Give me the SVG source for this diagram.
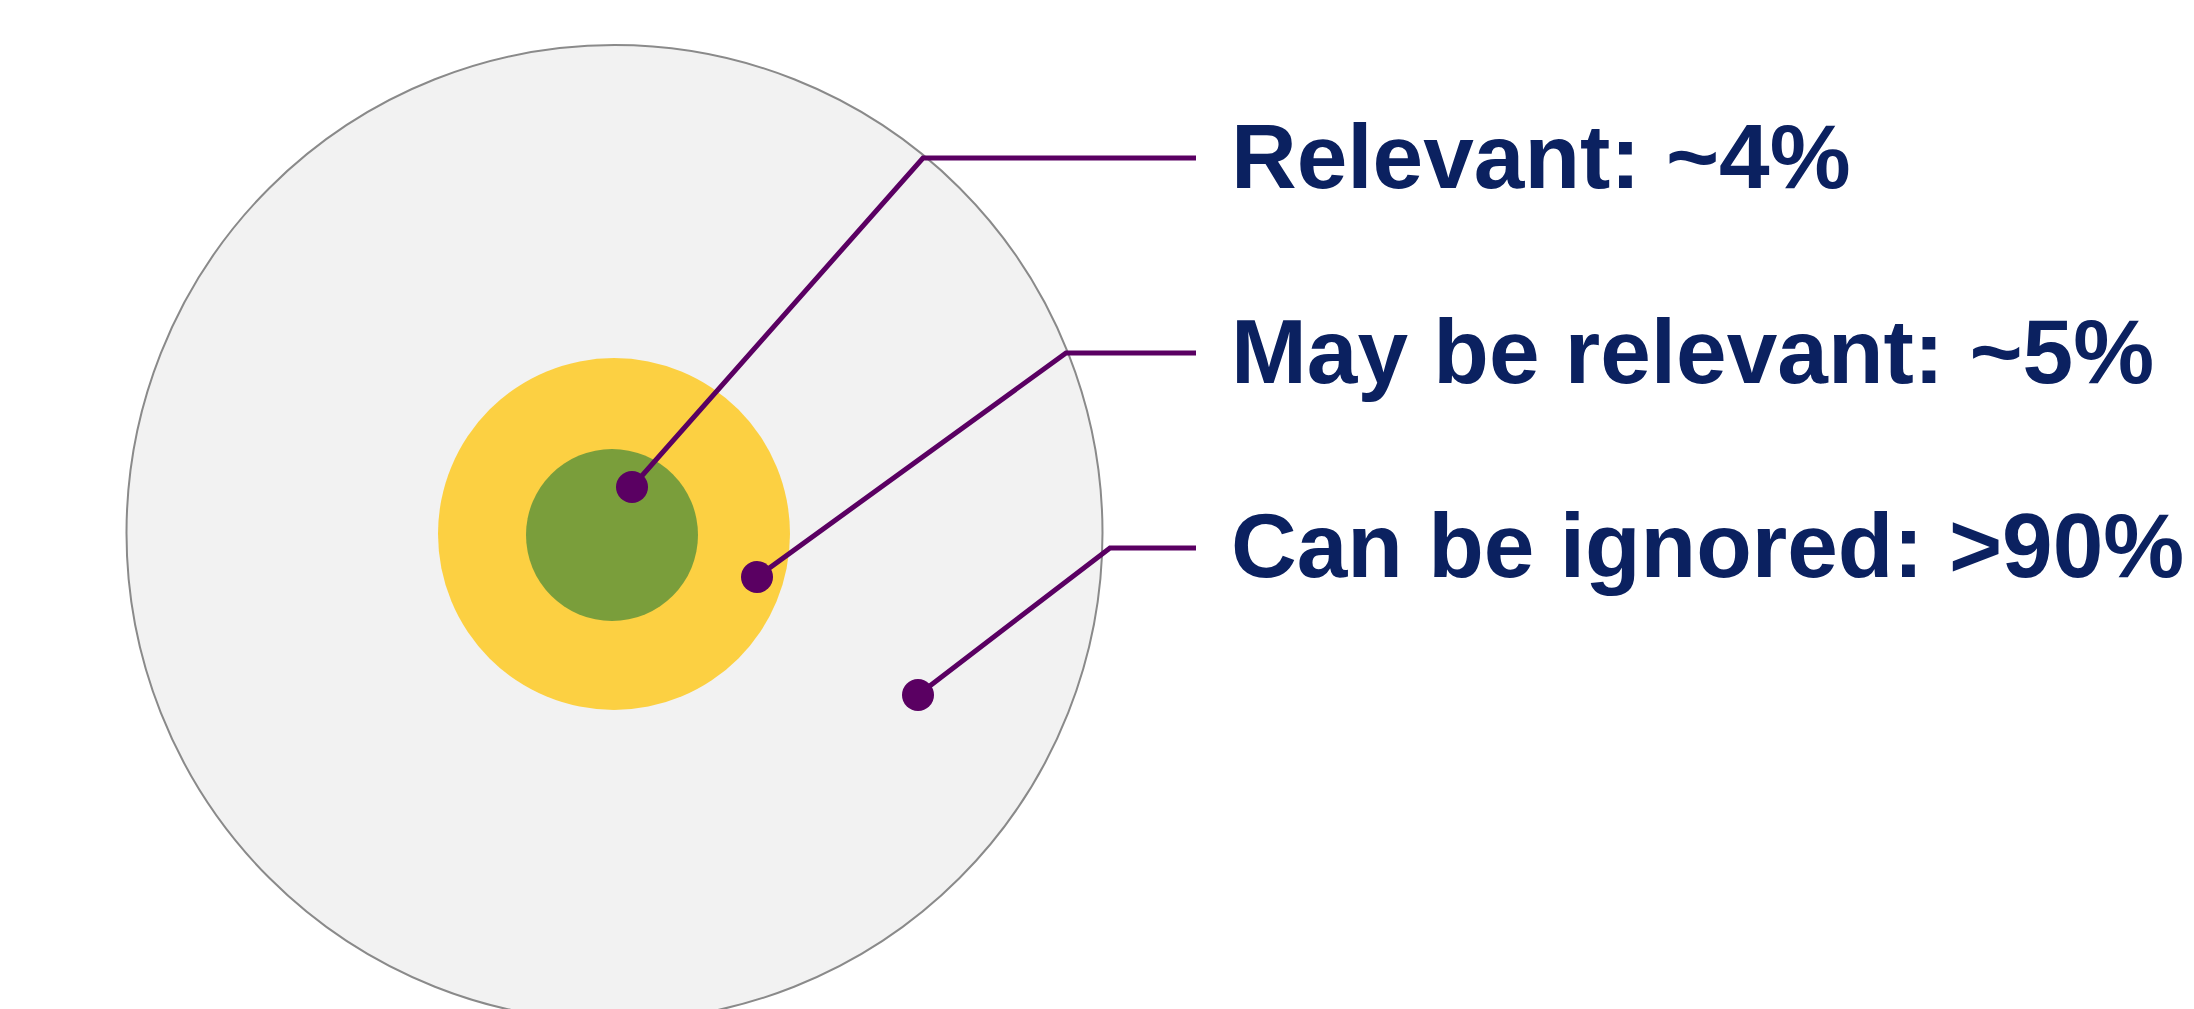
<svg xmlns="http://www.w3.org/2000/svg" width="2194" height="1009" viewBox="0 0 2194 1009">
  <style>
    .label { font-family: "Liberation Sans", Arial, sans-serif; font-weight: bold; font-size: 91px; fill: #0b2160; }
    .leader { fill: none; stroke: #5a0062; stroke-width: 5; stroke-linejoin: miter; }
    .dot { fill: #5a0062; }
  </style>
  <rect width="2194" height="1009" fill="#ffffff"/>

  <!-- concentric rings -->
  <g id="ring-ignored">
    <circle cx="614.5" cy="533" r="488" fill="#f2f2f2" stroke="#8a8a8a" stroke-width="2"/>
  </g>
  <g id="ring-maybe">
    <circle cx="614" cy="534" r="176" fill="#fcd042"/>
  </g>
  <g id="ring-relevant">
    <circle cx="612" cy="535" r="86" fill="#7a9e3b"/>
  </g>

  <!-- leader lines from each ring to its label -->
  <g id="connectors">
    <polyline class="leader" points="632,487 923,158 1196,158"/>
    <polyline class="leader" points="757,577 1066,353 1196,353"/>
    <polyline class="leader" points="918,695 1110,548 1196,548"/>
    <circle class="dot" cx="632" cy="487" r="16"/>
    <circle class="dot" cx="757" cy="577" r="16"/>
    <circle class="dot" cx="918" cy="695" r="16"/>
  </g>

  <!-- labels -->
  <g id="label-relevant">
    <text class="label" x="1231" y="188">Relevant: ~4%</text>
  </g>
  <g id="label-maybe">
    <text class="label" x="1231" y="383">May be relevant: ~5%</text>
  </g>
  <g id="label-ignored">
    <text class="label" x="1231" y="577">Can be ignored: &gt;90%</text>
  </g>
</svg>
